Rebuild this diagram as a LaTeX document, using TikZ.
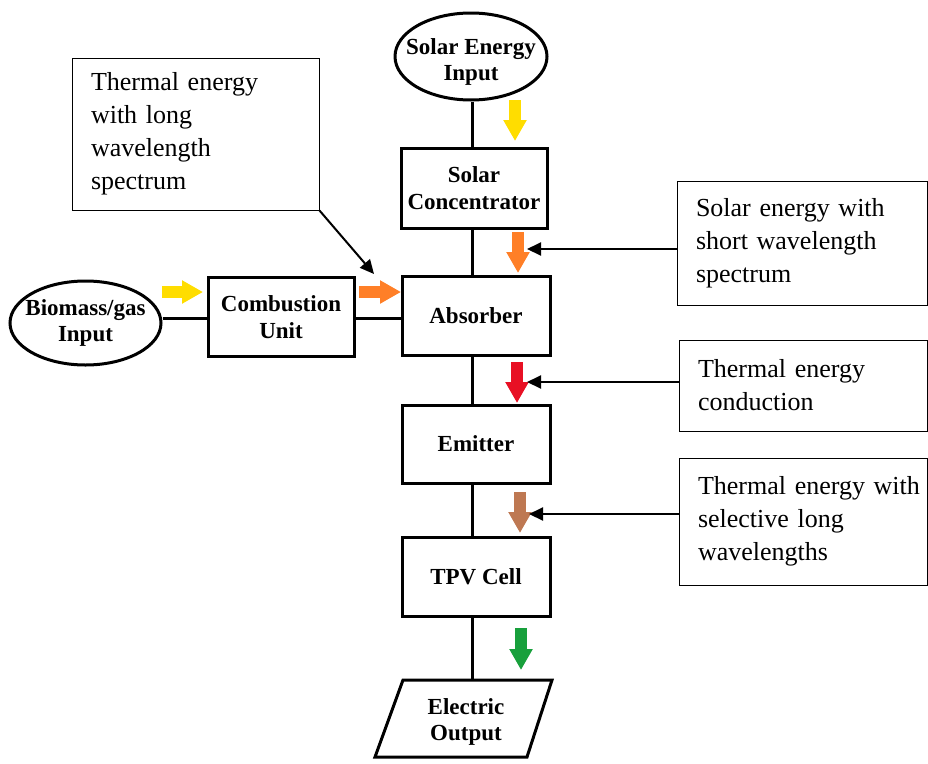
\documentclass[tikz,border=0pt]{standalone}
\usepackage{fontspec}
\setmainfont{Liberation Serif}
\usetikzlibrary{arrows.meta,shapes.geometric}
\definecolor{cyel}{RGB}{255,221,0}
\definecolor{corg}{RGB}{255,127,39}
\definecolor{cred}{RGB}{232,16,36}
\definecolor{cbrn}{RGB}{190,120,82}
\definecolor{cgrn}{RGB}{24,160,60}
\begin{document}
\begin{tikzpicture}[x=1pt,y=-1pt,
  blk/.style={draw, line width=3pt, minimum width=148pt, minimum height=79pt,
    font=\fontsize{23}{27}\selectfont\bfseries, align=center, inner sep=0pt},
  oval/.style={draw, ellipse, line width=3pt, inner sep=0pt},
  lbl/.style={font=\fontsize{23}{26}\selectfont\bfseries, align=center},
  callout/.style={draw, line width=1pt, font=\fontsize{26}{33}\selectfont,
    align=left, inner xsep=19pt, inner ysep=0pt},
  link/.style={line width=3pt},
  ptr/.style={line width=2pt, -{Triangle[length=14pt,width=13pt]}},
  fat/.style={line width=12pt, -{Triangle[length=21pt,width=22pt]}}]
\useasboundingbox (0,0) rectangle (928,763);

% main chain
\node[oval, minimum width=152pt, minimum height=87pt,
  label={[lbl, yshift=-5pt]center:Solar Energy\\Input}] (solar) at (471,56.5) {};
\node[blk, minimum width=146pt, minimum height=80pt] (sc) at (474,188) {Solar\\Concentrator};
\node[blk] (abs) at (476,316) {Absorber};
\node[blk, minimum height=78pt] (emi) at (476,444) {Emitter};
\node[blk] (tpv) at (476,577) {TPV Cell};
\node[lbl] (out) at (466,722) {Electric\\Output};
\draw[line width=3pt, line join=miter] (403,680) -- (552,680) -- (527,757) -- (375,757) -- cycle;
\coordinate (outtop) at (472,680);

% side chain
\node[oval, minimum width=151pt, minimum height=84pt,
  label={[lbl]center:Biomass/gas\\Input}] (bio) at (85.5,323) {};
\node[blk, minimum width=146pt] (comb) at (281,317) {Combustion\\Unit};

% connectors
\coordinate (spine) at (472,0);
\coordinate (hline) at (0,318);
\draw[link] (spine |- solar.south) -- (spine |- sc.north);
\draw[link] (spine |- sc.south) -- (spine |- abs.north);
\draw[link] (spine |- abs.south) -- (spine |- emi.north);
\draw[link] (spine |- emi.south) -- (spine |- tpv.north);
\draw[link] (spine |- tpv.south) -- (outtop);
\draw[link] (bio.east |- hline) -- (comb.west |- hline);
\draw[link] (comb.east |- hline) -- (abs.west |- hline);

% block arrows
\coordinate (y1a) at (515,100);  \coordinate (y1b) at (515,141);
\coordinate (o1a) at (518,232);  \coordinate (o1b) at (518,273);
\coordinate (r1a) at (517,362);  \coordinate (r1b) at (517,403);
\coordinate (b1a) at (520,492);  \coordinate (b1b) at (520,533);
\coordinate (g1a) at (521,628);  \coordinate (g1b) at (521,670);
\coordinate (y2a) at (162,292);  \coordinate (y2b) at (203,292);
\coordinate (o2a) at (359,292);  \coordinate (o2b) at (401,292);
\draw[fat, cyel] (y1a) -- (y1b);
\draw[fat, corg] (o1a) -- (o1b);
\draw[fat, cred] (r1a) -- (r1b);
\draw[fat, cbrn] (b1a) -- (b1b);
\draw[fat, cgrn] (g1a) -- (g1b);
\draw[fat, cyel] (y2a) -- (y2b);
\draw[fat, corg] (o2a) -- (o2b);

% callouts
\node[callout, text width=209pt, minimum height=152pt] (cl1) at (195.5,134)
  {Thermal energy\\with long\\wavelength\\spectrum};
\node[callout, text width=212pt, minimum height=124pt] (cr1) at (802,243)
  {Solar energy with\\short wavelength\\spectrum};
\node[callout, text width=210pt, minimum height=91pt] (cr2) at (803,385.5)
  {Thermal energy\\conduction};
\node[callout, text width=210pt, minimum height=127pt] (cr3) at (803,521.5)
  {\mbox{Thermal energy with}\\selective long\\wavelengths};

\coordinate (t0) at (374,274);
\coordinate (t1) at (527,249);
\coordinate (t2) at (527,382);
\coordinate (t3) at (529,514);
\draw[ptr] (cl1.south east) -- (t0);
\draw[ptr] (cr1.west |- t1) -- (t1);
\draw[ptr] (cr2.west |- t2) -- (t2);
\draw[ptr] (cr3.west |- t3) -- (t3);
\end{tikzpicture}
\end{document}
